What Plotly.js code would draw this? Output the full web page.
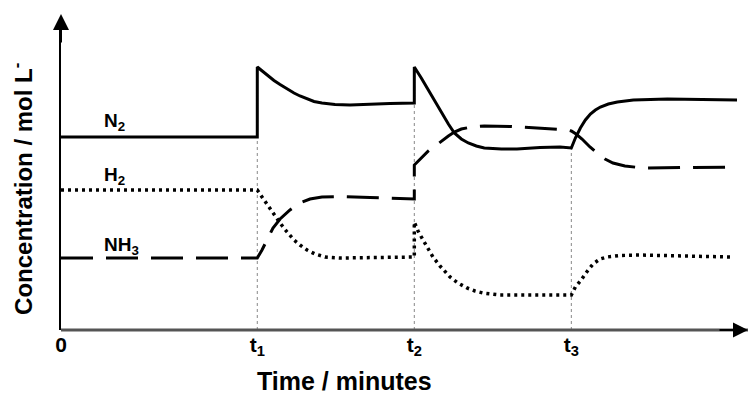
<!DOCTYPE html>
<html>
<head>
<meta charset="utf-8">
<script src="https://cdn.plot.ly/plotly-3.0.1.min.js"></script>
<style>html,body{margin:0;padding:0;background:#fff;}#chart{width:750px;height:396px;}</style>
</head>
<body>
<div id="chart"></div>
<script>
// Time axis (arbitrary units); event times t1, t2, t3
const eventTimes = [20, 36, 52];
const eventTops = [19.3, 22.7, 18.2];
const tickVals = [0, 20, 36, 52];
const tickLabels = ['<b>0</b>', '<b>t<sub>1</sub></b>', '<b>t<sub>2</sub></b>', '<b>t<sub>3</sub></b>'];

// N2 (solid)
const n2X = [0, 20, 20, 20.48, 21.09, 21.70, 22.32, 23.03, 23.74, 24.35, 25.07, 25.78, 26.59, 27.92, 29.45, 31.49, 33.52, 36,
  36, 36.71, 37.43, 38.14, 38.75, 39.47, 40.08, 40.79, 41.50, 42.32, 43.13, 44.87, 46.46, 48.81, 50.85, 52,
  52.41, 52.92, 53.43, 53.94, 54.45, 54.96, 55.77, 56.69, 58.32, 61.79, 68.88];
const n2Y = [19.3, 19.3, 26.3, 25.9, 25.4, 24.95, 24.55, 24.1, 23.7, 23.4, 23.1, 22.85, 22.7, 22.55, 22.5, 22.6, 22.65, 22.7,
  26.3, 25.2, 24.0, 22.8, 21.7, 20.6, 19.7, 19.1, 18.7, 18.4, 18.2, 18.1, 18.1, 18.25, 18.3, 18.2,
  19.2, 20.2, 21.0, 21.6, 22.0, 22.3, 22.6, 22.8, 23.0, 23.1, 23.0];

// H2 (dotted)
const h2X = [0, 20, 20.48, 21.09, 21.70, 22.32, 23.03, 23.74, 24.35, 25.07, 25.88, 26.90, 28.43, 32.50, 36,
  36, 36.38, 36.89, 37.40, 37.90, 38.62, 39.64, 40.45, 41.37, 42.18, 43.0, 44.73, 52,
  52.41, 52.92, 53.64, 54.21, 54.92, 55.64, 56.96, 58.99, 68.17];
const h2Y = [14.0, 14.0, 13.3, 12.4, 11.5, 10.7, 9.8, 9.0, 8.5, 8.0, 7.6, 7.3, 7.2, 7.25, 7.3,
  10.8, 9.9, 9.0, 8.1, 7.3, 6.4, 5.3, 4.7, 4.2, 3.9, 3.7, 3.5, 3.5,
  4.3, 4.9, 5.9, 6.6, 7.1, 7.3, 7.45, 7.5, 7.3];

// NH3 (dashed)
const nh3X = [0, 20, 20.48, 21.09, 21.60, 22.32, 23.33, 24.35, 25.37, 26.59, 28.42, 31.49, 36,
  36, 36.71, 37.43, 38.14, 38.75, 39.47, 40.08, 40.79, 41.81, 43.13, 45.88, 48.93, 51.54, 52,
  52.48, 53.09, 53.90, 54.62, 55.43, 56.24, 57.46, 59.30, 63.07, 68.88];
const nh3Y = [7.2, 7.2, 8.0, 9.2, 10.2, 11.1, 12.0, 12.7, 13.1, 13.3, 13.35, 13.25, 13.1,
  16.5, 17.2, 17.9, 18.4, 18.9, 19.4, 19.8, 20.1, 20.3, 20.4, 20.35, 20.2, 20.0, 19.9,
  19.6, 19.1, 18.3, 17.7, 17.1, 16.7, 16.4, 16.2, 16.25, 16.3];

const seriesNames = ['N<sub>2</sub>', 'H<sub>2</sub>', 'NH<sub>3</sub>'];
const labelX = [4.2, 4.2, 4.2];
const labelY = [20.8, 15.4, 8.4];

const font = 'Liberation Sans, Arial, sans-serif';

const traces = [
  {x: n2X, y: n2Y, mode: 'lines', name: 'N2', line: {color: '#000', width: 3}},
  {x: h2X, y: h2Y, mode: 'lines', name: 'H2', line: {color: '#000', width: 3.5, dash: '3px,4px'}},
  {x: nh3X, y: nh3Y, mode: 'lines', name: 'NH3', line: {color: '#000', width: 3, dash: '32px,13px'}}
];

const shapes = eventTimes.map((t, i) => ({
  type: 'line', xref: 'x', yref: 'y', x0: t, x1: t, y0: 0, y1: eventTops[i],
  line: {color: '#888', width: 1, dash: 'dot'}, layer: 'below'
}));
// time axis baseline
shapes.push({type: 'line', xref: 'paper', yref: 'paper', x0: 0, x1: 1, y0: 0, y1: 0,
  line: {color: '#555', width: 3}, layer: 'above'});

const annotations = seriesNames.map((s, i) => ({
  x: labelX[i], y: labelY[i], xref: 'x', yref: 'y', xanchor: 'left', yanchor: 'middle',
  text: '<b>' + s + '</b>', showarrow: false, font: {family: font, size: 19, color: '#000'}
}));
annotations.push(
  {x: 0.412, y: -0.167, xref: 'paper', yref: 'paper', xanchor: 'center', yanchor: 'middle',
   text: '<b>Time / minutes</b>', showarrow: false, font: {family: font, size: 25, color: '#000'}},
  {x: -0.0568, y: 0.458, xref: 'paper', yref: 'paper', xanchor: 'center', yanchor: 'middle', textangle: -90,
   text: '<b>Concentration / mol L<sup>-</sup></b>', showarrow: false, font: {family: font, size: 24, color: '#000'}},
  {x: 0, y: 1.026, xref: 'paper', yref: 'paper', ax: 0, ay: 30, axref: 'pixel', ayref: 'pixel', text: '',
   showarrow: true, arrowhead: 2, arrowsize: 1.6, arrowwidth: 2, arrowcolor: '#000'},
  {x: 1.0, y: 0, xref: 'paper', yref: 'paper', ax: -30, ay: 0, axref: 'pixel', ayref: 'pixel', text: '',
   showarrow: true, arrowhead: 2, arrowsize: 1.5, arrowwidth: 2, arrowcolor: '#000'}
);

const layout = {
  width: 750, height: 396,
  margin: {l: 61, r: 2, t: 22, b: 66},
  paper_bgcolor: '#fff', plot_bgcolor: '#fff',
  showlegend: false,
  xaxis: {range: [0, 70], showgrid: false, zeroline: false, showline: false,
    anchor: 'free', position: 0,
    tickmode: 'array', tickvals: tickVals, ticktext: tickLabels, ticks: '',
    tickfont: {family: font, size: 21, color: '#000'}},
  yaxis: {range: [0, 30.8], domain: [0, 1], showgrid: false, zeroline: false, showline: true, linecolor: '#000', linewidth: 2,
    showticklabels: false, ticks: ''},
  shapes: shapes,
  annotations: annotations
};

Plotly.newPlot('chart', traces, layout, {displayModeBar: false, staticPlot: true});
</script>
</body>
</html>
